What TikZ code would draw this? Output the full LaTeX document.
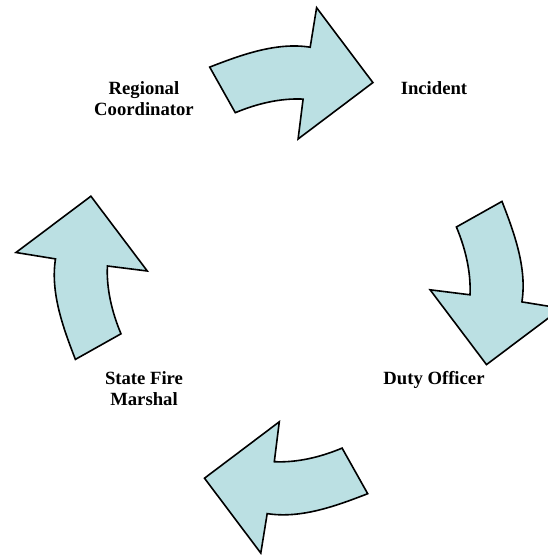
\documentclass[tikz,border=0pt]{standalone}
\usepackage{fontspec}
\setmainfont{Liberation Serif}
\definecolor{cyclefill}{HTML}{BBE0E3}

\begin{document}
\begin{tikzpicture}[x=1pt,y=1pt,
	cyclearrow/.style={draw=black,fill=cyclefill,line width=1.6pt,line join=miter},
	steplabel/.style={font=\bfseries\fontsize{18.67}{21.5}\selectfont,align=center,anchor=base,inner sep=0pt}]
	
	\useasboundingbox (-288.7,-274.6) rectangle (259.3,280.4);
	\clip (-288.7,-274.6) rectangle (259.3,280.4);
	
	\draw[cyclearrow] (-79,213.3) .. controls (-47.3,225.6) and (-12.1,238.5) .. (21.5,233.2) -- (27.9,272.7) -- (84.2,197.8) -- (9.4,141.4) -- (14.4,181.3) .. controls (-8.6,182.4) and (-32.2,176.6) .. (-53.4,167.7) -- cycle;
	\draw[cyclearrow,rotate=-90] (-79,213.3) .. controls (-47.3,225.6) and (-12.1,238.5) .. (21.5,233.2) -- (27.9,272.7) -- (84.2,197.8) -- (9.4,141.4) -- (14.4,181.3) .. controls (-8.6,182.4) and (-32.2,176.6) .. (-53.4,167.7) -- cycle;
	\draw[cyclearrow,rotate=-180] (-79,213.3) .. controls (-47.3,225.6) and (-12.1,238.5) .. (21.5,233.2) -- (27.9,272.7) -- (84.2,197.8) -- (9.4,141.4) -- (14.4,181.3) .. controls (-8.6,182.4) and (-32.2,176.6) .. (-53.4,167.7) -- cycle;
	\draw[cyclearrow,rotate=-270] (-79,213.3) .. controls (-47.3,225.6) and (-12.1,238.5) .. (21.5,233.2) -- (27.9,272.7) -- (84.2,197.8) -- (9.4,141.4) -- (14.4,181.3) .. controls (-8.6,182.4) and (-32.2,176.6) .. (-53.4,167.7) -- cycle;
	
	\node[steplabel] (coordinator) at (-144.7,164.4) {Regional\\Coordinator};
	\node[steplabel] (incident) at (145.3,185.9) {Incident};
	\node[steplabel] (duty) at (145.3,-103.6) {Duty Officer};
	\node[steplabel] (marshal) at (-144.7,-125.1) {State Fire\\Marshal};
	
\end{tikzpicture}
\end{document}
